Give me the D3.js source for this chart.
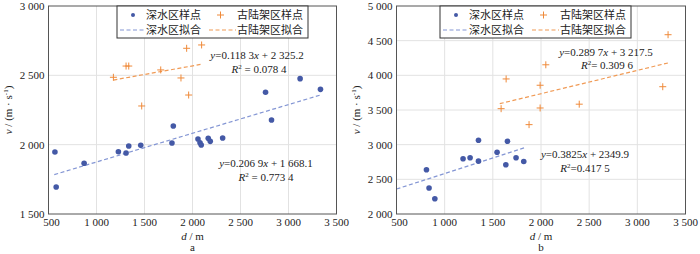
<!DOCTYPE html>
<html>
<head>
<meta charset="utf-8">
<script src="https://cdn.jsdelivr.net/npm/d3@7"></script>
<style>
  body { margin: 0; background: #fff; }
  svg text { font-family: "Liberation Serif", "Noto Sans CJK SC", serif; font-size: 11px; fill: #222; }
</style>
</head>
<body>
<div id="chart-area"></div>
<script>
// panel a: d (m), v (m/s)
const deepA = [[567,1947],[580,1695],[871,1866],[1228,1949],[1308,1940],[1336,1990],[1461,1995],
  [1786,2012],[1800,2135],[2057,2041],[2078,2014],[2091,1998],[2164,2046],[2185,2024],[2314,2048],
  [2761,2378],[2823,2178],[3121,2476],[3333,2399]];
const shelfA = [[1176,2486],[1308,2567],[1336,2567],[1471,2279],[1669,2539],[1880,2481],
  [1939,2695],[1960,2358],[2095,2719]];
const fitDeepA = [[560,1784],[3333,2358]];
const fitShelfA = [[1176,2466],[2095,2580]];

// panel b
const deepB = [[811,2638],[838,2374],[898,2221],[1191,2796],[1264,2811],[1351,3064],[1351,2762],
  [1544,2891],[1635,2710],[1652,3049],[1741,2811],[1821,2758]];
const shelfB = [[1586,3519],[1638,3948],[1876,3289],[1991,3857],[1991,3529],[2050,4152],
  [2397,3584],[3264,3836],[3319,4586]];
const fitDeepB = [[500,2360],[1825,2954]];
const fitShelfB = [[1572,3591],[3337,4185]];

const xTicks = [500, 1000, 1500, 2000, 2500, 3000, 3500];
const yTicksA = [1500, 2000, 2500, 3000];
const yTicksB = [2000, 2500, 3000, 3500, 4000, 4500, 5000];
const legendLabels = ["深水区样点", "古陆架区样点", "深水区拟合", "古陆架区拟合"];

const blue = "#4459a6", blueLine = "#8496d4", orange = "#ef8a3a", orangeLine = "#f09a55";

const fmt = d3.formatLocale({decimal: ".", thousands: " ", grouping: [3], currency: ["", ""]}).format(",d");

const svg = d3.select('#chart-area').append('svg')
  .attr('width', 700).attr('height', 254);

function drawPanel(p) {
  const x = d3.scaleLinear().domain([500, 3500]).range([p.left, p.right]);
  const y = d3.scaleLinear().domain(p.yDomain).range([214, 6]);
  const g = svg.append('g');

  // grid
  g.selectAll('.gx').data(xTicks.slice(1, -1)).join('line')
    .attr('x1', d => x(d)).attr('x2', d => x(d)).attr('y1', y.range()[0]).attr('y2', y.range()[1])
    .attr('stroke', '#e2e2e2');
  g.selectAll('.gy').data(p.yTicks.slice(1, -1)).join('line')
    .attr('y1', d => y(d)).attr('y2', d => y(d)).attr('x1', p.left).attr('x2', p.right)
    .attr('stroke', '#e2e2e2');

  // tick labels
  g.selectAll('.tx').data(xTicks).join('text')
    .attr('x', d => x(d) + (d === 500 ? 3 : 0)).attr('y', 226)
    .attr('text-anchor', 'middle').text(d => fmt(d));
  g.selectAll('.ty').data(p.yTicks).join('text')
    .attr('x', p.left - 4).attr('y', d => y(d) + 4)
    .attr('text-anchor', 'end').text(d => fmt(d));

  const line = d3.line().x(d => x(d[0])).y(d => y(d[1]));
  g.append('path').datum(p.fitDeep).attr('d', line).attr('fill', 'none')
    .attr('stroke', blueLine).attr('stroke-width', 1.2).attr('stroke-dasharray', '4,2.5');
  g.append('path').datum(p.fitShelf).attr('d', line).attr('fill', 'none')
    .attr('stroke', orangeLine).attr('stroke-width', 1.2).attr('stroke-dasharray', '4,2.5');

  g.selectAll('.dp').data(p.deep).join('circle')
    .attr('cx', d => x(d[0])).attr('cy', d => y(d[1])).attr('r', 2.8).attr('fill', blue);
  g.selectAll('.sp').data(p.shelf).join('path')
    .attr('d', d => `M${x(d[0]) - 3.5},${y(d[1])}h7M${x(d[0])},${y(d[1]) - 3.5}v7`)
    .attr('stroke', orange).attr('stroke-width', 1);

  // frame
  g.append('rect').attr('x', p.left).attr('y', 6).attr('width', p.right - p.left).attr('height', 208)
    .attr('fill', 'none').attr('stroke', '#555');

  // equations
  p.eqs.forEach(e => {
    const t1 = g.append('text').attr('x', e.x).attr('y', e.y + 4).attr('text-anchor', 'middle');
    t1.append('tspan').attr('font-style', 'italic').text('y');
    t1.append('tspan').text(e.a);
    t1.append('tspan').attr('font-style', 'italic').text('x');
    t1.append('tspan').text(e.b);
    const t2 = g.append('text').attr('x', e.x + e.dx2).attr('y', e.y + e.dy + 4).attr('text-anchor', 'middle');
    t2.append('tspan').attr('font-style', 'italic').text('R');
    t2.append('tspan').attr('font-size', '7px').attr('dy', -4).text('2');
    t2.append('tspan').attr('dy', 4).text(e.r);
  });

  // legend
  const lx = p.legendX;
  const lg = g.append('g');
  lg.append('rect').attr('x', lx).attr('y', 6).attr('width', 191).attr('height', 32)
    .attr('fill', '#fff').attr('stroke', '#333');
  lg.append('circle').attr('cx', lx + 16).attr('cy', 15).attr('r', 2).attr('fill', blue);
  lg.append('path').attr('d', `M${lx + 100},15h7M${lx + 103.5},11.5v7`).attr('stroke', orange);
  lg.append('line').attr('x1', lx + 3).attr('x2', lx + 28).attr('y1', 30).attr('y2', 30)
    .attr('stroke', blueLine).attr('stroke-width', 1.2).attr('stroke-dasharray', '4,2.5');
  lg.append('line').attr('x1', lx + 92).attr('x2', lx + 119).attr('y1', 30).attr('y2', 30)
    .attr('stroke', orangeLine).attr('stroke-width', 1.2).attr('stroke-dasharray', '4,2.5');
  [[29, 15], [120, 15], [29, 30], [120, 30]].forEach((pos, i) => {
    lg.append('text').attr('x', lx + pos[0]).attr('y', pos[1] + 4).text(legendLabels[i]);
  });

  // axis titles
  const cx = (p.left + p.right) / 2;
  const xt = g.append('text').attr('x', cx).attr('y', 240).attr('text-anchor', 'middle');
  xt.append('tspan').attr('font-style', 'italic').text('d');
  xt.append('tspan').text(' / m');
  g.append('text').attr('x', cx).attr('y', 251).attr('text-anchor', 'middle').text(p.tag);

  const yt = g.append('text').attr('transform', `translate(${p.left - 37},110) rotate(-90)`)
    .attr('text-anchor', 'middle');
  yt.append('tspan').attr('font-style', 'italic').text('v');
  yt.append('tspan').text(' / (m · s');
  yt.append('tspan').attr('font-size', '7px').attr('dy', -4).text('-1');
  yt.append('tspan').attr('dy', 4).text(')');
}

drawPanel({
  left: 48.5, right: 336.5, yDomain: [1500, 3000], yTicks: yTicksA,
  deep: deepA, shelf: shelfA, fitDeep: fitDeepA, fitShelf: fitShelfA,
  legendX: 117, tag: 'a',
  eqs: [
    {x: 257, y: 55, a: '=0.118 3', b: ' + 2 325.2', r: ' = 0.078 4', dx2: 2, dy: 14},
    {x: 266, y: 163, a: '=0.206 9', b: ' + 1 668.1', r: ' = 0.773 4', dx2: 0, dy: 14}
  ]
});
drawPanel({
  left: 396.5, right: 685.5, yDomain: [2000, 5000], yTicks: yTicksB,
  deep: deepB, shelf: shelfB, fitDeep: fitDeepB, fitShelf: fitShelfB,
  legendX: 440, tag: 'b',
  eqs: [
    {x: 606, y: 52, a: '=0.289 7', b: ' + 3 217.5', r: '= 0.309 6', dx2: 1, dy: 12.5},
    {x: 585, y: 154, a: '=0.3825', b: ' + 2349.9', r: '=0.417 5', dx2: 0, dy: 13.5}
  ]
});
</script>
</body>
</html>
